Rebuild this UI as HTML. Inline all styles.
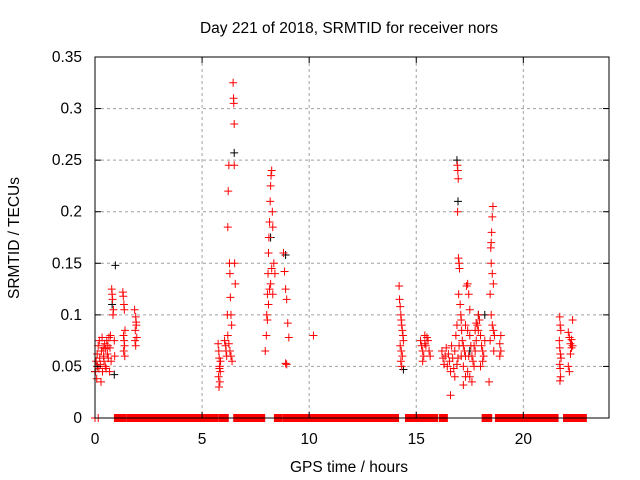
<!DOCTYPE html>
<html><head><meta charset="utf-8"><style>
body{margin:0;background:#fff}
svg{display:block;font-family:"Liberation Sans",sans-serif}
</style></head><body>
<svg id="chart" width="640" height="480" viewBox="0 0 640 480" xmlns="http://www.w3.org/2000/svg">
<text x="349" y="33" font-size="15.5" text-anchor="middle">Day 221 of 2018, SRMTID for receiver nors</text>
<text transform="translate(19,238) rotate(-90)" font-size="15.5" text-anchor="middle">SRMTID / TECUs</text>
<text x="349" y="472" font-size="15.5" text-anchor="middle">GPS time / hours</text>
<g id="grid"></g><g id="zeros"></g><g id="marks"></g><g id="axes"></g>
</svg>
<script>
const xTicks=[0,5,10,15,20];
const yTicks=[0,0.05,0.1,0.15,0.2,0.25,0.3,0.35];
const yTickLabels=["0","0.05","0.1","0.15","0.2","0.25","0.3","0.35"];
const redT=[0.02,0.05,0.08,0.1,0.12,0.15,0.18,0.2,0.22,0.25,0.28,0.3,0.33,0.35,0.38,0.4,0.42,0.45,0.48,0.5,0.52,0.55,0.58,0.6,0.62,0.65,0.68,0.7,0.72,0.75,
0.78,0.8,0.82,0.84,0.86,0.9,0.92,
1.3,1.32,1.35,1.37,1.4,1.33,1.36,1.38,1.34,1.39,
1.85,1.9,1.92,1.88,1.95,1.9,1.87,1.93,
5.75,5.78,5.8,5.82,5.85,5.77,5.83,5.79,5.81,5.86,
6.05,6.1,6.12,6.15,6.18,6.2,6.22,6.25,6.28,6.3,6.32,6.35,6.38,6.45,6.47,6.48,6.5,6.5,6.52,6.55,6.3,6.35,6.4,6.2,6.25,
7.95,8.0,8.02,8.05,8.08,8.1,8.12,8.15,8.18,8.2,8.22,8.25,8.28,8.3,8.35,8.4,8.05,8.1,8.15,8.2,8.25,8.3,
8.8,8.85,8.9,8.95,9.0,9.05,8.9,8.95,
10.2,
14.2,14.22,14.25,14.28,14.3,14.32,14.35,14.38,14.4,14.25,14.3,14.35,14.28,14.32,
15.2,15.25,15.3,15.35,15.4,15.45,15.5,15.55,15.6,15.65,15.3,15.4,
16.2,16.25,16.3,16.35,16.4,16.45,16.5,16.55,16.6,16.6,16.65,16.7,16.75,16.8,16.85,16.9,16.92,16.94,16.96,16.93,16.97,17.0,17.02,16.98,17.05,17.08,17.1,17.12,17.15,17.2,17.25,17.3,17.35,17.4,17.45,17.5,17.3,17.4,17.5,17.55,17.6,17.65,17.7,17.4,17.5,17.6,17.75,17.8,17.85,17.9,17.95,18.0,18.05,18.1,18.15,18.2,17.45,17.2,17.1,16.95,17.0,16.9,16.8,17.3,17.2,17.7,17.75,17.8,17.9,18.0,18.1,
18.45,18.48,18.5,18.52,18.55,18.58,18.5,18.55,18.6,18.5,18.55,18.6,18.65,18.45,18.62,18.4,18.9,18.95,18.9,18.95,
21.7,21.72,21.75,21.68,21.7,21.73,21.76,21.7,21.72,21.74,21.71,
22.1,22.15,22.2,22.25,22.3,22.2,22.1,22.15,22.25,22.3,0,0.15];
const redV=[0.045,0.055,0.038,0.062,0.05,0.07,0.048,0.075,0.058,0.052,0.035,0.065,0.078,0.045,0.068,0.06,0.055,0.072,0.05,0.067,0.048,0.075,0.062,0.07,0.058,0.078,0.045,0.068,0.08,0.055,
0.125,0.12,0.115,0.1,0.105,0.075,0.06,
0.122,0.118,0.11,0.105,0.085,0.08,0.075,0.07,0.065,0.06,
0.105,0.098,0.093,0.085,0.078,0.07,0.075,0.09,
0.072,0.065,0.058,0.05,0.045,0.04,0.035,0.03,0.048,0.055,
0.075,0.07,0.065,0.06,0.1,0.185,0.22,0.245,0.15,0.14,0.117,0.1,0.09,0.325,0.31,0.305,0.285,0.245,0.15,0.13,0.065,0.06,0.055,0.08,0.072,
0.065,0.08,0.1,0.12,0.14,0.16,0.175,0.19,0.21,0.225,0.235,0.24,0.2,0.185,0.15,0.14,0.095,0.11,0.125,0.13,0.145,0.12,
0.16,0.142,0.125,0.115,0.092,0.078,0.053,0.052,
0.08,
0.128,0.115,0.108,0.1,0.095,0.09,0.085,0.08,0.075,0.07,0.065,0.06,0.055,0.05,
0.075,0.07,0.065,0.06,0.08,0.07,0.078,0.075,0.065,0.06,0.055,0.072,
0.065,0.058,0.052,0.06,0.068,0.05,0.062,0.055,0.022,0.045,0.07,0.058,0.048,0.065,0.08,0.09,0.245,0.24,0.232,0.2,0.155,0.15,0.145,0.12,0.11,0.1,0.095,0.085,0.075,0.07,0.065,0.06,0.128,0.13,0.12,0.105,0.09,0.085,0.08,0.07,0.06,0.055,0.05,0.045,0.04,0.035,0.065,0.075,0.09,0.1,0.095,0.08,0.07,0.065,0.06,0.075,0.06,0.05,0.06,0.058,0.07,0.052,0.04,0.04,0.032,0.07,0.085,0.092,0.085,0.05,0.055,
0.12,0.165,0.17,0.18,0.195,0.205,0.15,0.14,0.13,0.1,0.09,0.085,0.08,0.075,0.065,0.035,0.072,0.065,0.06,0.08,
0.098,0.09,0.085,0.075,0.068,0.062,0.058,0.052,0.048,0.04,0.036,
0.083,0.078,0.072,0.068,0.095,0.062,0.05,0.045,0.076,0.07,0,0];
const blackT=[0.0,0.1,0.95,0.9,6.5,8.2,8.9,16.95,16.9,17.9,18.2,14.4,17.5,0.8];
const blackV=[0.045,0.05,0.148,0.042,0.257,0.175,0.158,0.21,0.25,0.1,0.1,0.047,0.065,0.11];
const zeroStart=[0.93,1.5,1.96,5.8,6.5,8.4,8.8,14.52,15.31,15.59,16.1,18.1,18.72,21.9,22.55];
const zeroEnd=[1.4,1.9,5.7,6.2,7.9,8.7,14.15,15.27,15.55,15.97,16.43,18.5,21.6,22.46,22.92];

const L=95,R=609,T=57,B=418,XMAX=24,YMAX=0.35;
const sx=t=>L+t/XMAX*(R-L);
const sy=v=>B-v/YMAX*(B-T);
const NS="http://www.w3.org/2000/svg";
function mk(tag,attrs,parent){const e=document.createElementNS(NS,tag);for(const k in attrs)e.setAttribute(k,attrs[k]);parent.appendChild(e);return e;}
const grid=document.getElementById('grid'),axes=document.getElementById('axes'),marks=document.getElementById('marks'),zeros=document.getElementById('zeros');
xTicks.forEach(t=>{
 const x=sx(t);
 if(t>0){const g=mk('line',{x1:x,x2:x,y1:T,y2:B,stroke:'#a0a0a0','stroke-dasharray':'3,3'},grid);
 
 }
 mk('line',{x1:x,x2:x,y1:B,y2:B-6,stroke:'#000'},axes);
 mk('line',{x1:x,x2:x,y1:T,y2:T+6,stroke:'#000'},axes);
 const tx=mk('text',{x:x,y:444,'font-size':15.5,'text-anchor':'middle'},axes);
 tx.textContent=t;
 
 
});
yTicks.forEach((v,i)=>{
 const y=sy(v);
 if(v>0&&v<YMAX){const g=mk('line',{x1:L,x2:R,y1:y,y2:y,stroke:'#a0a0a0','stroke-dasharray':'3,3'},grid);
 
 }
 mk('line',{x1:L,x2:L+6,y1:y,y2:y,stroke:'#000'},axes);
 mk('line',{x1:R,x2:R-6,y1:y,y2:y,stroke:'#000'},axes);
 const tx=mk('text',{x:82,y:y+5,'font-size':15.5,'text-anchor':'end'},axes);
 tx.textContent=yTickLabels[i];
 
 
});
const frame=mk('rect',{x:L,y:T,width:R-L,height:B-T,fill:'none',stroke:'#000'},axes);


zeroStart.forEach((s,i)=>{
 const r=mk('rect',{x:sx(s)-1,y:B-4,width:sx(zeroEnd[i])-sx(s)+2,height:8,fill:'#ff0000'},zeros);
 
 
});
function plus(t,v,c,name){
 const x=sx(t),y=sy(v);
 const p=mk('path',{d:`M${x-4},${y}H${x+4}M${x},${y-4}V${y+4}`,stroke:c,'stroke-width':1,fill:'none'},marks);
 
 
}
blackT.forEach((t,i)=>plus(t,blackV[i],'#000','black-point'));
redT.forEach((t,i)=>plus(t,redV[i],'#ff0000','red-point'));
</script>
</body></html>
